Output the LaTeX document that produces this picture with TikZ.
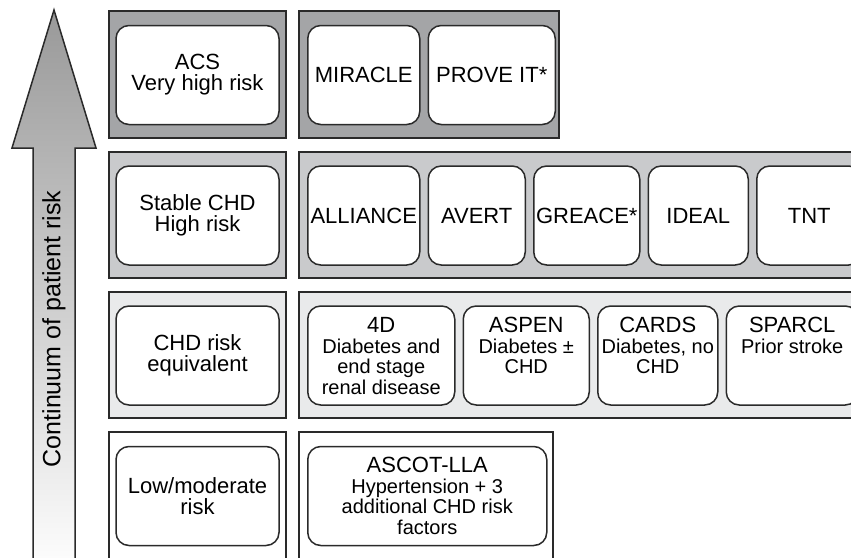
\documentclass[tikz,border=0pt]{standalone}
\usepackage{fontspec}
\setmainfont{Liberation Sans}
\usepackage{xcolor}
\usetikzlibrary{positioning}

\definecolor{bandA}{HTML}{A4A5A7}
\definecolor{bandB}{HTML}{C9CACC}
\definecolor{bandC}{HTML}{E9EAEB}
\definecolor{edge}{HTML}{2A2A2A}

\begin{document}
\begin{tikzpicture}[x=1pt, y=-1pt, node distance=7pt,
  band/.style={draw=edge, line width=2pt},
  riskbox/.style={draw=edge, fill=white, line width=1.5pt, rounded corners=13pt,
    minimum width=163pt, minimum height=99pt, inner sep=0pt, align=center,
    font=\fontsize{22}{21}\selectfont},
  trial/.style={draw=edge, fill=white, line width=1.5pt, rounded corners=13pt,
    minimum height=99pt, inner sep=0pt, align=center,
    font=\fontsize{22}{21}\selectfont},
  detail/.style={inner sep=0pt, align=center, font=\fontsize{20}{20.5}\selectfont}]
  \useasboundingbox (0,0) rectangle (851,557);
  \clip (0,0) rectangle (851,557);

  \draw[line width=1.5pt, draw=edge, top color=black!40, bottom color=white]
    (33,575) -- (33,148) -- (12,148) -- (54,10) -- (96,148) -- (75,148) -- (75,575) -- cycle;
  \node[rotate=90, inner sep=0pt, font=\fontsize{25}{25}\selectfont] (risklabel) at (54,329) {Continuum of patient risk};

  \draw[band, fill=bandA] (109,11) rectangle (286,138);
  \draw[band, fill=bandB] (109,152) rectangle (286,278);
  \draw[band, fill=bandC] (109,292) rectangle (286,418);
  \draw[band, fill=white] (109,432) rectangle (286,580);
  \draw[band, fill=bandA] (299,11) rectangle (559,138);
  \draw[band, fill=bandB] (299,152) rectangle (880,278);
  \draw[band, fill=bandC] (299,292) rectangle (880,418);
  \draw[band, fill=white] (299,432) rectangle (553,580);

  \node[riskbox] (acs) at (197.5,75) {ACS\\Very high risk};
  \node[riskbox] (stable) at (197.5,215.5) {Stable CHD\\High risk};
  \node[riskbox] (equiv) at (197.5,355.5) {CHD risk\\equivalent};
  \node[riskbox] (lowmod) at (197.5,496) {Low/moderate\\risk};

  \node[trial, minimum width=112pt, anchor=west] (miracle) at (307,75) {MIRACLE};
  \node[trial, minimum width=127pt, right=of miracle] (proveit) {PROVE IT*};

  \node[trial, minimum width=112pt, anchor=west] (alliance) at (307,215.5) {ALLIANCE};
  \node[trial, minimum width=97pt, right=of alliance] (avert) {AVERT};
  \node[trial, minimum width=106pt, right=of avert] (greace) {GREACE*};
  \node[trial, minimum width=100pt, right=of greace] (ideal) {IDEAL};
  \node[trial, minimum width=105pt, right=of ideal] (tnt) {TNT};

  \node[trial, minimum width=147pt, anchor=west] (fourd) at (307,355.5) {};
  \node[trial, minimum width=126pt, right=of fourd] (aspen) {};
  \node[trial, minimum width=120pt, right=of aspen] (cards) {};
  \node[trial, minimum width=132pt, right=of cards] (sparcl) {};
  \node[detail, below=12pt of fourd.north] (fourd-txt) {{\fontsize{22}{20.5}\selectfont 4D}\\Diabetes and\\end stage\\renal disease};
  \node[detail, below=12pt of aspen.north] (aspen-txt) {{\fontsize{22}{20.5}\selectfont ASPEN}\\Diabetes ±\\CHD};
  \node[detail, below=12pt of cards.north] (cards-txt) {{\fontsize{22}{20.5}\selectfont CARDS}\\Diabetes, no\\CHD};
  \node[detail, below=12pt of sparcl.north] (sparcl-txt) {{\fontsize{22}{20.5}\selectfont SPARCL}\\Prior stroke};

  \node[trial, minimum width=239pt, anchor=west, font=\fontsize{20}{20.5}\selectfont] (ascot) at (307,496)
    {{\fontsize{22}{20.5}\selectfont ASCOT-LLA}\\Hypertension + 3\\additional CHD risk\\factors};
\end{tikzpicture}
\end{document}
